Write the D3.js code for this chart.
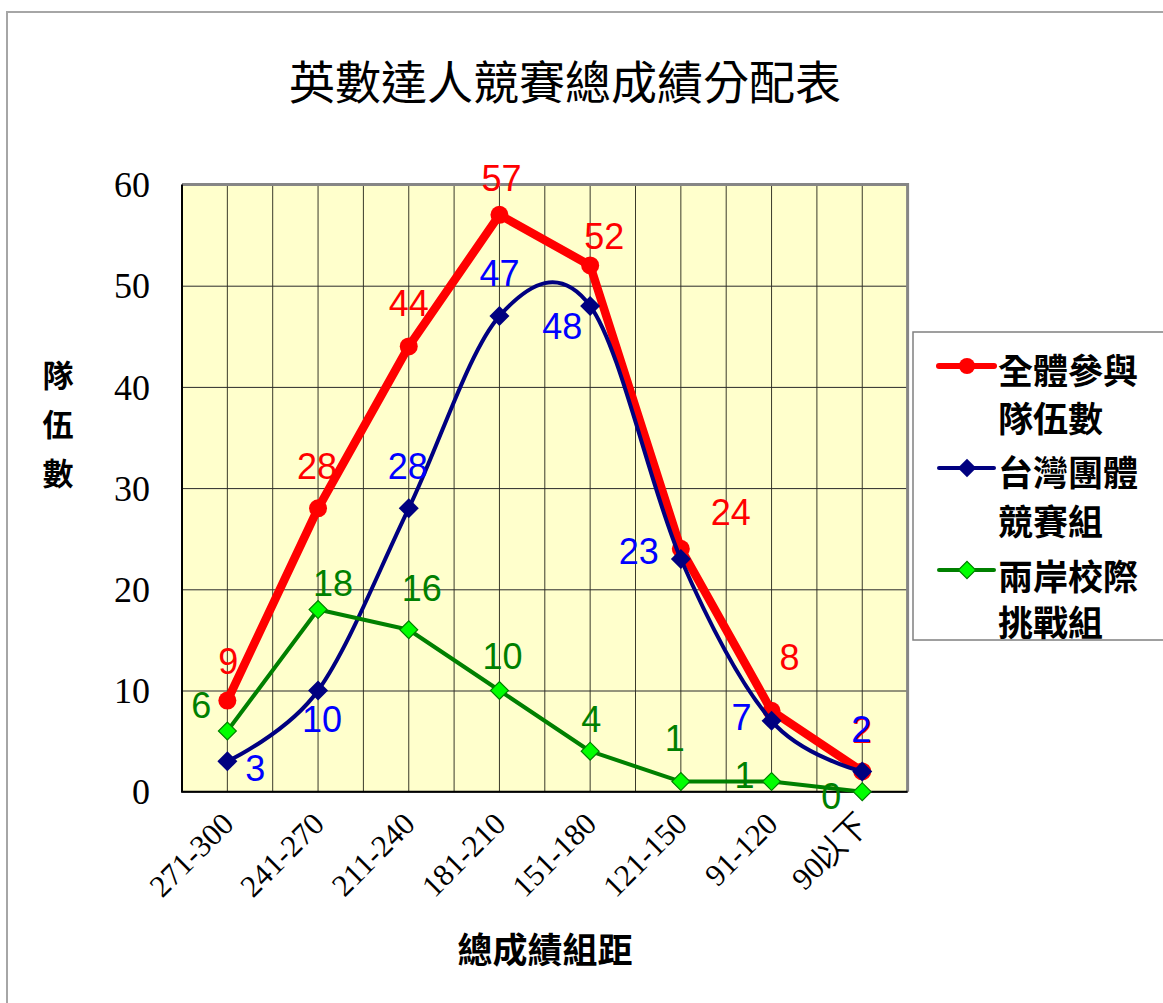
<!DOCTYPE html>
<html>
<head>
<meta charset="utf-8">
<script src="https://cdn.jsdelivr.net/npm/d3@7"></script>
<style>
  html, body { margin: 0; padding: 0; background: #ffffff; }
  svg { display: block; }
</style>
</head>
<body>
<svg id="chart" width="1163" height="1003"></svg>
<script>
// ---------------- data ----------------
const categories = ["271-300", "241-270", "211-240", "181-210", "151-180", "121-150", "91-120", "90以下"];
const allTeams = [9, 28, 44, 57, 52, 24, 8, 2];        // 全體參與隊伍數
const taiwanGroup = [3, 10, 28, 47, 48, 23, 7, 2];     // 台灣團體競賽組
const crossStrait = [6, 18, 16, 10, 4, 1, 1, 0];       // 兩岸校際挑戰組
const yTicks = [0, 10, 20, 30, 40, 50, 60];
const seriesNames = [["全體參與", "隊伍數"], ["台灣團體", "競賽組"], ["兩岸校際", "挑戰組"]];
const titleText = "英數達人競賽總成績分配表";
const yTitle = ["隊", "伍", "數"];
const xTitle = "總成績組距";

// label placement offsets (layout only, pixels from the point)
const redLabelOffsets = [[1, -40], [-1, -42], [0, -43], [2, -37], [14, -29], [50, -37], [18, -54], [0, -41]];
const blueLabelOffsets = [[28, 7], [4, 28], [-1, -42], [0, -43], [-28, 20], [-42, -8], [-30, -4], [-1, -42]];
const greenLabelOffsets = [[-26, -26], [15, -27], [13, -42], [3, -35], [1, -32], [-6, -44], [-27, -7], [-31, 4]];

// ---------------- layout ----------------
const svg = d3.select("#chart");
const plot = { left: 182, right: 907.6, top: 184.5, bottom: 791.7 };

const x = d3.scaleBand().domain(categories).range([plot.left, plot.right]).paddingInner(0).paddingOuter(0);
const cx = c => x(c) + x.bandwidth() / 2;
const y = d3.scaleLinear().domain([0, 60]).range([plot.bottom, plot.top]);

const LATIN = "'Liberation Sans', Arial, sans-serif";
const SERIF = "'Liberation Serif', 'Times New Roman', serif";
const CJK = "'Noto Sans CJK TC', 'Noto Sans CJK SC', sans-serif";

// outer frame
svg.append("path")
  .attr("d", `M7,1010 L7,12 L1170,12`)
  .attr("fill", "none").attr("stroke", "#a6a6a6").attr("stroke-width", 2);

// title
svg.append("text")
  .attr("x", 565).attr("y", 82).attr("dy", "0.36em")
  .attr("text-anchor", "middle")
  .style("font-family", CJK).style("font-size", "46px").style("font-weight", 400)
  .attr("fill", "#000")
  .text(titleText);

// plot background
svg.append("rect")
  .attr("x", plot.left).attr("y", plot.top)
  .attr("width", plot.right - plot.left).attr("height", plot.bottom - plot.top)
  .attr("fill", "#ffffcc");

// vertical grid (category centres and boundaries)
const vgrid = [];
categories.forEach(c => { vgrid.push(x(c)); vgrid.push(cx(c)); });
vgrid.push(plot.right);
svg.append("g").selectAll("line").data(vgrid.slice(1, -1)).join("line")
  .attr("x1", d => d).attr("x2", d => d)
  .attr("y1", plot.top).attr("y2", plot.bottom)
  .attr("stroke", "#3a3a2a").attr("stroke-width", 1);

// horizontal grid via axis
const yAxis = d3.axisLeft(y).tickValues(yTicks).tickSize(-(plot.right - plot.left)).tickFormat(d3.format("d")).tickPadding(32);
const gy = svg.append("g").attr("transform", `translate(${plot.left},0)`).call(yAxis);
gy.select(".domain").remove();
gy.selectAll(".tick line").attr("stroke", "#2a2a2a").attr("stroke-width", 1);
gy.selectAll(".tick text")
  .style("font-family", SERIF).style("font-size", "36px")
  .attr("fill", "#000").attr("dy", "0.34em");

// plot borders
svg.append("path")
  .attr("d", `M${plot.left},${plot.top} L${plot.right},${plot.top} L${plot.right},${plot.bottom}`)
  .attr("fill", "none").attr("stroke", "#868686").attr("stroke-width", 3);
svg.append("path")
  .attr("d", `M${plot.left},${plot.top} L${plot.left},${plot.bottom} L${plot.right},${plot.bottom}`)
  .attr("fill", "none").attr("stroke", "#000").attr("stroke-width", 2);

// x tick labels
const xAxis = d3.axisBottom(x).tickSize(0).tickFormat(d => d);
const gx = svg.append("g").attr("transform", `translate(0,${plot.bottom})`).call(xAxis);
gx.select(".domain").remove();
gx.selectAll(".tick text")
  .attr("text-anchor", "end")
  .attr("y", 0).attr("dy", 0)
  .attr("transform", "translate(8,34) rotate(-45)")
  .style("font-family", SERIF).style("font-size", "31px")
  .attr("fill", "#000");

// ---------------- series ----------------
const lineStraight = d3.line().x((d, i) => cx(categories[i])).y(d => y(d));
const lineSmooth = d3.line().x((d, i) => cx(categories[i])).y(d => y(d)).curve(d3.curveCardinal.tension(0));

// red
svg.append("path").datum(allTeams).attr("d", lineStraight)
  .attr("fill", "none").attr("stroke", "#ff0000").attr("stroke-width", 8.5)
  .attr("stroke-linejoin", "round");
svg.append("g").selectAll("circle").data(allTeams).join("circle")
  .attr("cx", (d, i) => cx(categories[i])).attr("cy", d => y(d)).attr("r", 9)
  .attr("fill", "#ff0000");

// blue
svg.append("path").datum(taiwanGroup).attr("d", lineSmooth)
  .attr("fill", "none").attr("stroke", "#000080").attr("stroke-width", 4);
const diamond = d3.symbol().type(d3.symbolSquare);
svg.append("g").selectAll("path").data(taiwanGroup).join("path")
  .attr("d", diamond.size(200)())
  .attr("transform", (d, i) => `translate(${cx(categories[i])},${y(d)}) rotate(45)`)
  .attr("fill", "#000080");

// green
svg.append("path").datum(crossStrait).attr("d", lineStraight)
  .attr("fill", "none").attr("stroke", "#008000").attr("stroke-width", 4)
  .attr("stroke-linejoin", "round");
svg.append("g").selectAll("path").data(crossStrait).join("path")
  .attr("d", d3.symbol().type(d3.symbolSquare).size(160)())
  .attr("transform", (d, i) => `translate(${cx(categories[i])},${y(d)}) rotate(45)`)
  .attr("fill", "#00ff00").attr("stroke", "#008000").attr("stroke-width", 1.2);

// ---------------- data labels ----------------
function labels(values, offsets, color) {
  svg.append("g").selectAll("text").data(values).join("text")
    .attr("x", (d, i) => cx(categories[i]) + offsets[i][0])
    .attr("y", (d, i) => y(d) + offsets[i][1] + 13)
    .attr("text-anchor", "middle")
    .style("font-family", LATIN).style("font-size", "36px")
    .attr("fill", color)
    .text(d => d);
}
labels(allTeams, redLabelOffsets, "#ff0000");
labels(taiwanGroup, blueLabelOffsets, "#0000ff");
labels(crossStrait, greenLabelOffsets, "#008000");

// ---------------- axis titles ----------------
svg.append("g").selectAll("text").data(yTitle).join("text")
  .attr("x", 58).attr("y", (d, i) => 376 + i * 49).attr("dy", "0.36em")
  .attr("text-anchor", "middle")
  .style("font-family", CJK).style("font-size", "31px").style("font-weight", 700)
  .text(d => d);

svg.append("text")
  .attr("x", 545).attr("y", 950).attr("dy", "0.36em")
  .attr("text-anchor", "middle")
  .style("font-family", CJK).style("font-size", "35px").style("font-weight", 700)
  .text(xTitle);

// ---------------- legend ----------------
const legend = svg.append("g");
legend.append("rect")
  .attr("x", 913).attr("y", 332).attr("width", 270).attr("height", 308)
  .attr("fill", "#fff").attr("stroke", "#808080").attr("stroke-width", 1.5);

const legendRows = [
  { color: "#ff0000", width: 6, marker: "circle", lineY: 366, textY: [371, 419] },
  { color: "#000080", width: 4, marker: "diamondNavy", lineY: 468, textY: [473, 522] },
  { color: "#008000", width: 4, marker: "diamondLime", lineY: 570, textY: [577, 623] }
];
legendRows.forEach((r, k) => {
  legend.append("line")
    .attr("x1", 939).attr("x2", 994).attr("y1", r.lineY).attr("y2", r.lineY)
    .attr("stroke", r.color).attr("stroke-width", r.width).attr("stroke-linecap", "round");
  if (r.marker === "circle") {
    legend.append("circle").attr("cx", 967).attr("cy", r.lineY).attr("r", 8).attr("fill", "#ff0000");
  } else if (r.marker === "diamondNavy") {
    legend.append("path").attr("d", d3.symbol().type(d3.symbolSquare).size(170)())
      .attr("transform", `translate(967,${r.lineY}) rotate(45)`).attr("fill", "#000080");
  } else {
    legend.append("path").attr("d", d3.symbol().type(d3.symbolSquare).size(150)())
      .attr("transform", `translate(967,${r.lineY}) rotate(45)`)
      .attr("fill", "#00ff00").attr("stroke", "#008000").attr("stroke-width", 1.2);
  }
  seriesNames[k].forEach((t, j) => {
    legend.append("text")
      .attr("x", 998).attr("y", r.textY[j]).attr("dy", "0.36em")
      .style("font-family", CJK).style("font-size", "35px").style("font-weight", 700)
      .attr("fill", "#000")
      .text(t);
  });
});
</script>
</body>
</html>
